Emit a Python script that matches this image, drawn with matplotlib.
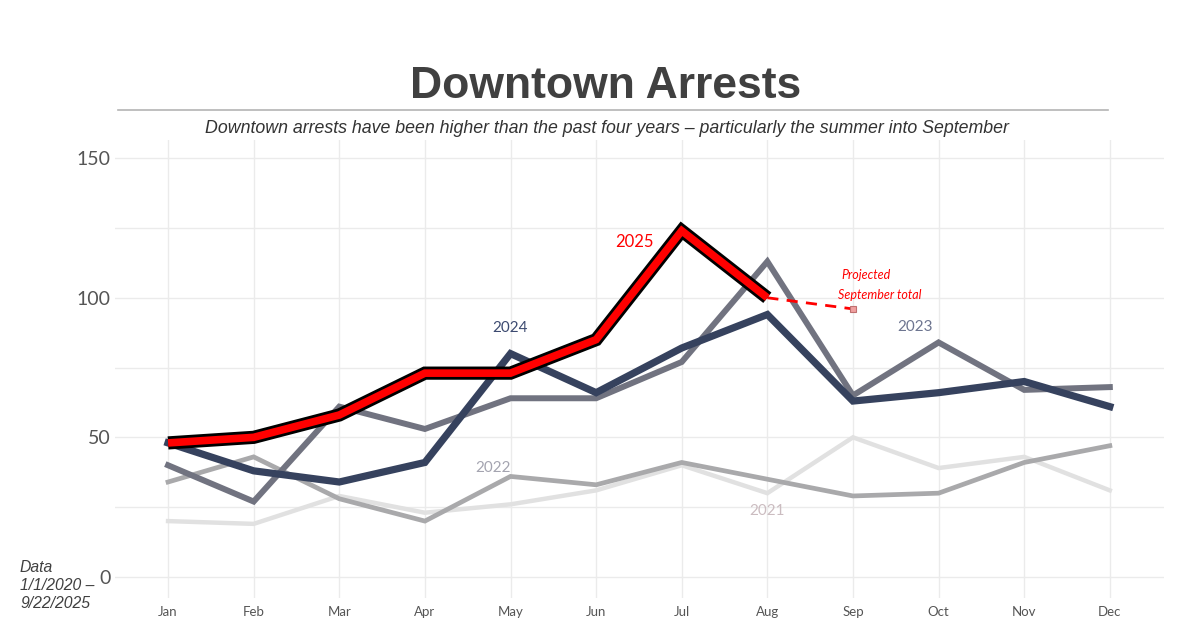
import matplotlib.pyplot as plt
import matplotlib.patheffects as pe
from matplotlib.lines import Line2D

OUT_PNG = "out.png"

MONTHS = ["Jan", "Feb", "Mar", "Apr", "May", "Jun",
          "Jul", "Aug", "Sep", "Oct", "Nov", "Dec"]

Y2021 = [20, 19, 29, 23, 26, 31, 40, 30, 50, 39, 43, 31]
Y2022 = [34, 43, 28, 20, 36, 33, 41, 35, 29, 30, 41, 47]
Y2023 = [40, 27, 61, 53, 64, 64, 77, 113, 65, 84, 67, 68]
Y2024 = [48, 38, 34, 41, 80, 66, 82, 94, 63, 66, 70, 61]
Y2025 = [48, 50, 58, 73, 73, 85, 124, 100]
SEP_PROJECTED = 96

LABEL_FONT = ["Lato", "DejaVu Sans"]


def main():
    fig = plt.figure(figsize=(12, 6.28), dpi=100)
    ax = fig.add_axes([0.0958, 0.048, 0.874, 0.729])

    x = list(range(len(MONTHS)))

    ax.plot(x, Y2021, color="#e1e1e1", lw=3.2, zorder=2, solid_joinstyle="miter")
    ax.plot(x, Y2022, color="#a9a9ab", lw=3.4, zorder=3, solid_joinstyle="miter")
    ax.plot(x, Y2023, color="#717380", lw=4.3, zorder=4, solid_joinstyle="miter")
    ax.plot(x, Y2024, color="#36425e", lw=5.2, zorder=5, solid_joinstyle="miter")

    # projection from Aug to Sep
    ax.plot([7, 8], [Y2025[-1], SEP_PROJECTED], color="red", lw=2.0,
            ls=(0, (4, 3)), zorder=6)
    ax.plot([8], [SEP_PROJECTED], marker="s", ms=5, color="#f0a0a0",
            mec="#c07070", mew=0.8, zorder=7)

    ax.plot(x[:len(Y2025)], Y2025, color="red", lw=5.5, zorder=8,
            solid_joinstyle="miter", solid_capstyle="butt",
            path_effects=[pe.Stroke(linewidth=9.5, foreground="black",
                                    capstyle="butt", joinstyle="miter"),
                          pe.Normal()])

    # series labels
    ax.text(5.45, 120, "2025", color="red", fontsize=12, family=LABEL_FONT,
            ha="center", va="center", zorder=10)
    ax.text(4.0, 89, "2024", color="#3c4a70", fontsize=11, family=LABEL_FONT,
            ha="center", va="center", zorder=10)
    ax.text(8.72, 89.5, "2023", color="#6d7590", fontsize=11, family=LABEL_FONT,
            ha="center", va="center", zorder=10)
    ax.text(3.8, 39, "2022", color="#a4a4b0", fontsize=11, family=LABEL_FONT,
            ha="center", va="center", zorder=10)
    ax.text(7.0, 23.5, "2021", color="#cbbcc0", fontsize=11, family=LABEL_FONT,
            ha="center", va="center", zorder=10)
    ax.text(7.86, 108, "Projected", color="red", fontsize=9, style="italic",
            family=LABEL_FONT, ha="left", va="center", zorder=10)
    ax.text(7.82, 101, "September total", color="red", fontsize=9,
            style="italic", family=LABEL_FONT, ha="left", va="center", zorder=10)

    ax.set_xlim(-0.62, 11.63)
    ax.set_ylim(-7.5, 156.5)
    ax.set_xticks(x)
    ax.set_xticklabels(MONTHS, family=LABEL_FONT, fontsize=9.5, color="#555555")
    ax.set_yticks([0, 25, 50, 75, 100, 125, 150])
    ax.set_yticklabels(["0", "", "50", "", "100", "", "150"],
                       family=LABEL_FONT, fontsize=14, color="#555555")
    ax.tick_params(length=0, pad=6)
    ax.tick_params(axis="y", pad=3)
    ax.grid(True, color="#ebebeb", lw=1.0)
    ax.set_axisbelow(True)
    for s in ax.spines.values():
        s.set_visible(False)

    # title block
    fig.text(0.505, 0.862, "Downtown Arrests", ha="center", va="center",
             fontsize=32, fontweight="bold", color="#404040",
             family="Liberation Sans")
    fig.add_artist(Line2D([118 / 1200, 1108 / 1200], [1 - 110 / 628, 1 - 110 / 628],
                          color="#b4b4b4", lw=1.2, transform=fig.transFigure))
    fig.text(0.506, 0.795,
             "Downtown arrests have been higher than the past four years \u2013 "
             "particularly the summer into September",
             ha="center", va="center", fontsize=12.8, style="italic",
             color="#333333", family="Liberation Sans")

    fig.text(20 / 1200, 1 - 586 / 628, "Data\n1/1/2020 \u2013\n9/22/2025",
             ha="left", va="center", fontsize=11.3, style="italic",
             color="#404040", family="Liberation Sans", linespacing=1.25)

    fig.savefig(OUT_PNG, dpi=100)


if __name__ == "__main__":
    main()
